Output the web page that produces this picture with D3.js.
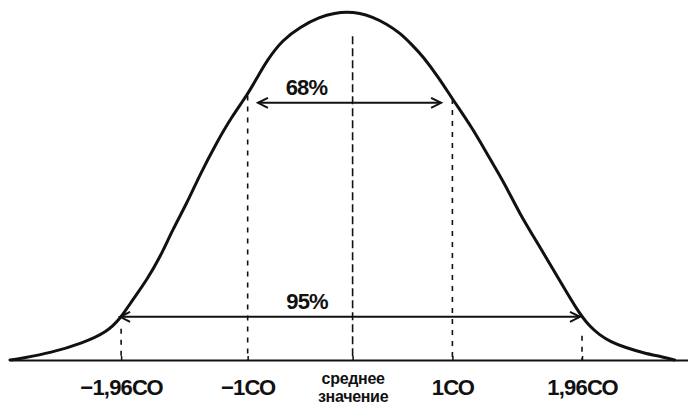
<!DOCTYPE html>
<html>
<head>
<meta charset="utf-8">
<script src="https://cdn.jsdelivr.net/npm/d3@7"></script>
<style>
  body { margin: 0; background: #fff; }
  text { font-family: "Liberation Sans", Arial, sans-serif; font-weight: bold; fill: #111; }
</style>
</head>
<body>
<div id="chart"></div>
<script>
// curve: position in SD-ish units, height relative to peak
var curveU = [-3.33, -3.20, -2.94, -2.62, -2.39, -2.26, -2.14, -2.00, -1.87, -1.75, -1.61, -1.49,
  -1.32, -1.17, -1.03, -0.93, -0.83, -0.68, -0.51, -0.32, -0.17, -0.06,
  0.07, 0.19, 0.33, 0.46, 0.58, 0.68, 0.84, 0.97, 1.17, 1.33, 1.48, 1.62, 1.82,
  2.01, 2.20, 2.30, 2.40, 2.51, 2.64, 2.83, 3.01, 3.13];
var curveH = [0, 0.006, 0.020, 0.049, 0.080, 0.118, 0.172, 0.230, 0.296, 0.374, 0.451, 0.529,
  0.626, 0.701, 0.759, 0.810, 0.862, 0.920, 0.957, 0.986, 0.997, 1.0,
  0.997, 0.986, 0.966, 0.940, 0.905, 0.874, 0.810, 0.750, 0.664, 0.580, 0.506, 0.422, 0.325,
  0.230, 0.135, 0.098, 0.072, 0.052, 0.037, 0.020, 0.009, 0];

// markers on the baseline
var markerU = [-2.25, -1.02, 0, 0.97, 2.23];
var markerTop = [0.09, 0.76, 0.93, 0.75, 0.07];
var markerLabel = ["\u22121,96СО", "\u22121СО", "среднее значение", "1СО", "1,96СО"];

// range arrows
var arrowFrom = [-0.92, -2.26];
var arrowTo = [0.86, 2.21];
var arrowLevel = [0.739, 0.124];
var arrowLabel = ["68%", "95%"];

var svgWidth = 688;
var svgHeight = 406;

var svg = d3.select("#chart")
  .append("svg")
  .attr("width", svgWidth)
  .attr("height", svgHeight);

svg.append("rect").attr("width", svgWidth).attr("height", svgHeight).attr("fill", "#fff");

var x = d3.scaleLinear().domain([-3.33, 3.26]).range([10, 688]);
var y = d3.scaleLinear().domain([0, 1]).range([360, 12]);

var pts = curveU.map((u, i) => [u, curveH[i]]);

// dashed marker lines
svg.selectAll(".marker")
  .data(markerU)
  .enter()
  .append("line")
  .attr("x1", d => x(d))
  .attr("x2", d => x(d))
  .attr("y1", (d, i) => y(markerTop[i]))
  .attr("y2", y(0))
  .attr("stroke", "#111")
  .attr("stroke-width", 1.6)
  .attr("stroke-dasharray", (d, i) => i === 2 ? "8,4" : "5,6");

// baseline axis
var axis = svg.append("g")
  .attr("transform", `translate(0, ${y(0)})`)
  .call(d3.axisBottom(x).tickValues(markerU).tickSizeInner(-4).tickSizeOuter(0));

axis.select(".domain").attr("stroke", "#111").attr("stroke-width", 2);
axis.selectAll(".tick line").attr("stroke", "#111").attr("stroke-width", 1.5);
axis.selectAll(".tick text")
  .attr("y", 35)
  .attr("dy", 0)
  .style("font-size", "22px")
  .style("letter-spacing", "-0.8px")
  .attr("fill", "#111")
  .each(function(d, i) {
    var t = d3.select(this);
    var words = markerLabel[i].split(" ");
    if (words.length > 1) {
      t.text(null).style("font-size", "16px").style("letter-spacing", "-0.3px");
      t.append("tspan").attr("x", 0).attr("y", 24).text(words[0]);
      t.append("tspan").attr("x", 0).attr("y", 42).text(words[1]);
    } else {
      t.text(markerLabel[i]);
    }
  });

// curve
svg.append("path")
  .datum(pts)
  .attr("d", d3.line().x(d => x(d[0])).y(d => y(d[1])).curve(d3.curveBasis))
  .attr("fill", "none")
  .attr("stroke", "#111")
  .attr("stroke-width", 3)
  .attr("stroke-linecap", "round");

// arrows with open heads
arrowLabel.forEach(function(lbl, i) {
  var x1 = x(arrowFrom[i]), x2 = x(arrowTo[i]), ay = y(arrowLevel[i]);
  var g = svg.append("g").attr("stroke", "#111").attr("fill", "none").attr("stroke-width", 2);
  g.append("line").attr("x1", x1).attr("x2", x2).attr("y1", ay).attr("y2", ay);
  g.append("path").attr("d", `M${x1 + 10},${ay - 5}L${x1},${ay}L${x1 + 10},${ay + 5}`);
  g.append("path").attr("d", `M${x2 - 10},${ay - 5}L${x2},${ay}L${x2 - 10},${ay + 5}`);
  svg.append("text")
    .attr("x", (x1 + x2) / 2 - 43)
    .attr("y", ay - 8)
    .attr("text-anchor", "middle")
    .style("font-size", "22px")
    .style("letter-spacing", "-0.8px")
    .text(lbl);
});
</script>
</body>
</html>
